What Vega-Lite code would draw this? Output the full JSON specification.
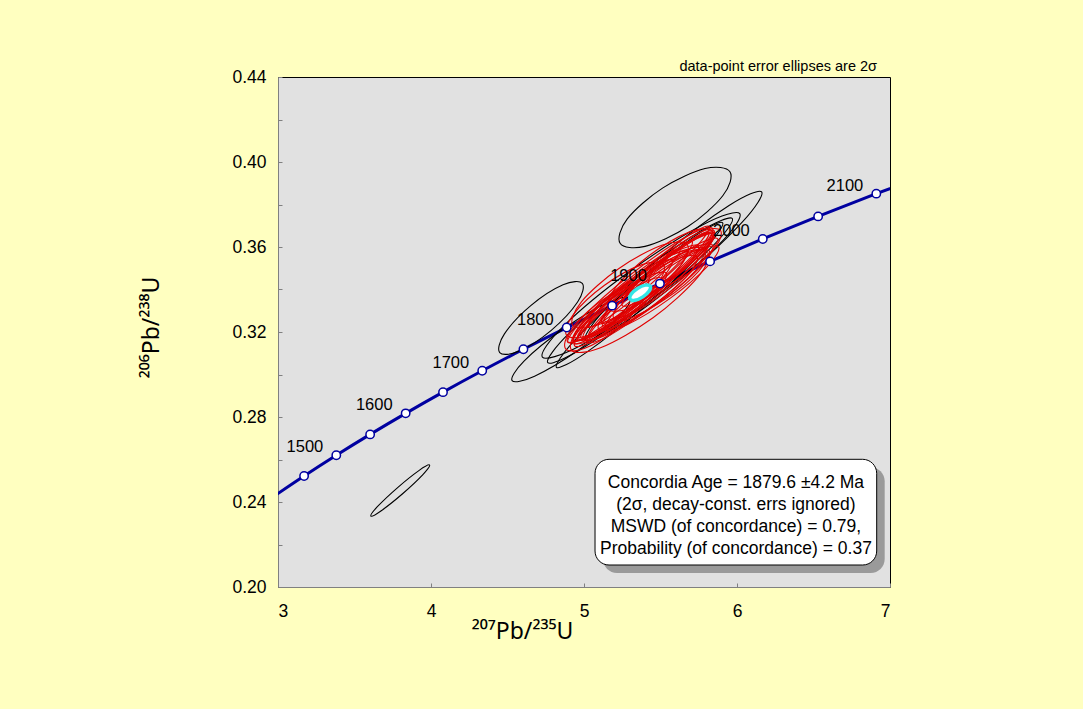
{
"$schema": "https://vega.github.io/schema/vega-lite/v6.json",
"width": 612, "height": 510,
"autosize": {"type": "none"},
"padding": {"left": 278, "top": 77, "right": 193, "bottom": 122},
"background": "#FFFFC0",
"config": {
 "font": "Liberation Sans",
 "view": {"fill": "#E1E1E1", "stroke": "#000000", "strokeWidth": 1},
 "axis": {"grid": false, "domainColor": "#808080", "tickColor": "#808080", "labelFontSize": 17.5, "labelColor": "#000000", "titleFontSize": 23, "titleFontWeight": "normal", "titleColor": "#000000", "labelFont": "Liberation Sans", "titleFont": "Noto Sans"}
},
"datasets": {
 "concordia": [
  {"age":1400,"r207_235":2.97009,"r206_238":0.24256},
  {"age":1450,"r207_235":3.17049,"r206_238":0.25224},
  {"age":1500,"r207_235":3.38099,"r206_238":0.26199},
  {"age":1550,"r207_235":3.60212,"r206_238":0.27181},
  {"age":1600,"r207_235":3.83441,"r206_238":0.28172},
  {"age":1650,"r207_235":4.07844,"r206_238":0.29170},
  {"age":1700,"r207_235":4.33477,"r206_238":0.30175},
  {"age":1750,"r207_235":4.60404,"r206_238":0.31189},
  {"age":1800,"r207_235":4.88690,"r206_238":0.32210},
  {"age":1850,"r207_235":5.18405,"r206_238":0.33240},
  {"age":1900,"r207_235":5.49619,"r206_238":0.34278},
  {"age":1950,"r207_235":5.82408,"r206_238":0.35323},
  {"age":2000,"r207_235":6.16853,"r206_238":0.36377},
  {"age":2050,"r207_235":6.53036,"r206_238":0.37439},
  {"age":2100,"r207_235":6.91045,"r206_238":0.38509},
  {"age":2150,"r207_235":7.30971,"r206_238":0.39587}
 ],
 "ellipses": [
  {"id":"K1","set":"rejected","k":0,"r207_235":3.991,"r206_238":0.2574},
  {"id":"K1","set":"rejected","k":1,"r207_235":3.923,"r206_238":0.2549},
  {"id":"K1","set":"rejected","k":2,"r207_235":3.782,"r206_238":0.2468},
  {"id":"K1","set":"rejected","k":3,"r207_235":3.651,"r206_238":0.2379},
  {"id":"K1","set":"rejected","k":4,"r207_235":3.607,"r206_238":0.2334},
  {"id":"K1","set":"rejected","k":5,"r207_235":3.675,"r206_238":0.2359},
  {"id":"K1","set":"rejected","k":6,"r207_235":3.816,"r206_238":0.2440},
  {"id":"K1","set":"rejected","k":7,"r207_235":3.947,"r206_238":0.2529},
  {"id":"K2","set":"rejected","k":0,"r207_235":4.989,"r206_238":0.3429},
  {"id":"K2","set":"rejected","k":1,"r207_235":4.863,"r206_238":0.3422},
  {"id":"K2","set":"rejected","k":2,"r207_235":4.652,"r206_238":0.3324},
  {"id":"K2","set":"rejected","k":3,"r207_235":4.480,"r206_238":0.3191},
  {"id":"K2","set":"rejected","k":4,"r207_235":4.449,"r206_238":0.3103},
  {"id":"K2","set":"rejected","k":5,"r207_235":4.575,"r206_238":0.3110},
  {"id":"K2","set":"rejected","k":6,"r207_235":4.786,"r206_238":0.3208},
  {"id":"K2","set":"rejected","k":7,"r207_235":4.958,"r206_238":0.3341},
  {"id":"K3","set":"rejected","k":0,"r207_235":5.301,"r206_238":0.3359},
  {"id":"K3","set":"rejected","k":1,"r207_235":5.153,"r206_238":0.3338},
  {"id":"K3","set":"rejected","k":2,"r207_235":4.866,"r206_238":0.3215},
  {"id":"K3","set":"rejected","k":3,"r207_235":4.608,"r206_238":0.3063},
  {"id":"K3","set":"rejected","k":4,"r207_235":4.530,"r206_238":0.2971},
  {"id":"K3","set":"rejected","k":5,"r207_235":4.677,"r206_238":0.2992},
  {"id":"K3","set":"rejected","k":6,"r207_235":4.964,"r206_238":0.3115},
  {"id":"K3","set":"rejected","k":7,"r207_235":5.222,"r206_238":0.3267},
  {"id":"K4","set":"rejected","k":0,"r207_235":6.018,"r206_238":0.3757},
  {"id":"K4","set":"rejected","k":1,"r207_235":5.780,"r206_238":0.3706},
  {"id":"K4","set":"rejected","k":2,"r207_235":5.304,"r206_238":0.3488},
  {"id":"K4","set":"rejected","k":3,"r207_235":4.868,"r206_238":0.3229},
  {"id":"K4","set":"rejected","k":4,"r207_235":4.728,"r206_238":0.3082},
  {"id":"K4","set":"rejected","k":5,"r207_235":4.966,"r206_238":0.3132},
  {"id":"K4","set":"rejected","k":6,"r207_235":5.442,"r206_238":0.3351},
  {"id":"K4","set":"rejected","k":7,"r207_235":5.878,"r206_238":0.3609},
  {"id":"K5","set":"rejected","k":0,"r207_235":5.969,"r206_238":0.3734},
  {"id":"K5","set":"rejected","k":1,"r207_235":5.752,"r206_238":0.3671},
  {"id":"K5","set":"rejected","k":2,"r207_235":5.310,"r206_238":0.3447},
  {"id":"K5","set":"rejected","k":3,"r207_235":4.900,"r206_238":0.3192},
  {"id":"K5","set":"rejected","k":4,"r207_235":4.763,"r206_238":0.3056},
  {"id":"K5","set":"rejected","k":5,"r207_235":4.980,"r206_238":0.3119},
  {"id":"K5","set":"rejected","k":6,"r207_235":5.422,"r206_238":0.3343},
  {"id":"K5","set":"rejected","k":7,"r207_235":5.832,"r206_238":0.3598},
  {"id":"K6","set":"rejected","k":0,"r207_235":5.906,"r206_238":0.3714},
  {"id":"K6","set":"rejected","k":1,"r207_235":5.710,"r206_238":0.3644},
  {"id":"K6","set":"rejected","k":2,"r207_235":5.312,"r206_238":0.3417},
  {"id":"K6","set":"rejected","k":3,"r207_235":4.943,"r206_238":0.3164},
  {"id":"K6","set":"rejected","k":4,"r207_235":4.820,"r206_238":0.3034},
  {"id":"K6","set":"rejected","k":5,"r207_235":5.016,"r206_238":0.3104},
  {"id":"K6","set":"rejected","k":6,"r207_235":5.414,"r206_238":0.3331},
  {"id":"K6","set":"rejected","k":7,"r207_235":5.783,"r206_238":0.3584},
  {"id":"K7","set":"rejected","k":0,"r207_235":6.161,"r206_238":0.3859},
  {"id":"K7","set":"rejected","k":1,"r207_235":5.948,"r206_238":0.3795},
  {"id":"K7","set":"rejected","k":2,"r207_235":5.522,"r206_238":0.3565},
  {"id":"K7","set":"rejected","k":3,"r207_235":5.133,"r206_238":0.3303},
  {"id":"K7","set":"rejected","k":4,"r207_235":5.009,"r206_238":0.3163},
  {"id":"K7","set":"rejected","k":5,"r207_235":5.222,"r206_238":0.3227},
  {"id":"K7","set":"rejected","k":6,"r207_235":5.648,"r206_238":0.3457},
  {"id":"K7","set":"rejected","k":7,"r207_235":6.037,"r206_238":0.3719},
  {"id":"K8","set":"rejected","k":0,"r207_235":5.954,"r206_238":0.3954},
  {"id":"K8","set":"rejected","k":1,"r207_235":5.791,"r206_238":0.3969},
  {"id":"K8","set":"rejected","k":2,"r207_235":5.513,"r206_238":0.3877},
  {"id":"K8","set":"rejected","k":3,"r207_235":5.283,"r206_238":0.3732},
  {"id":"K8","set":"rejected","k":4,"r207_235":5.236,"r206_238":0.3618},
  {"id":"K8","set":"rejected","k":5,"r207_235":5.399,"r206_238":0.3603},
  {"id":"K8","set":"rejected","k":6,"r207_235":5.677,"r206_238":0.3695},
  {"id":"K8","set":"rejected","k":7,"r207_235":5.907,"r206_238":0.3841},
  {"id":"R1","set":"accepted","k":0,"r207_235":5.850,"r206_238":0.3668},
  {"id":"R1","set":"accepted","k":1,"r207_235":5.680,"r206_238":0.3623},
  {"id":"R1","set":"accepted","k":2,"r207_235":5.338,"r206_238":0.3452},
  {"id":"R1","set":"accepted","k":3,"r207_235":5.024,"r206_238":0.3254},
  {"id":"R1","set":"accepted","k":4,"r207_235":4.923,"r206_238":0.3146},
  {"id":"R1","set":"accepted","k":5,"r207_235":5.092,"r206_238":0.3191},
  {"id":"R1","set":"accepted","k":6,"r207_235":5.434,"r206_238":0.3362},
  {"id":"R1","set":"accepted","k":7,"r207_235":5.748,"r206_238":0.3560},
  {"id":"R2","set":"accepted","k":0,"r207_235":5.832,"r206_238":0.3663},
  {"id":"R2","set":"accepted","k":1,"r207_235":5.685,"r206_238":0.3618},
  {"id":"R2","set":"accepted","k":2,"r207_235":5.389,"r206_238":0.3457},
  {"id":"R2","set":"accepted","k":3,"r207_235":5.118,"r206_238":0.3275},
  {"id":"R2","set":"accepted","k":4,"r207_235":5.031,"r206_238":0.3179},
  {"id":"R2","set":"accepted","k":5,"r207_235":5.178,"r206_238":0.3224},
  {"id":"R2","set":"accepted","k":6,"r207_235":5.473,"r206_238":0.3385},
  {"id":"R2","set":"accepted","k":7,"r207_235":5.744,"r206_238":0.3567},
  {"id":"R3","set":"accepted","k":0,"r207_235":5.747,"r206_238":0.3605},
  {"id":"R3","set":"accepted","k":1,"r207_235":5.592,"r206_238":0.3575},
  {"id":"R3","set":"accepted","k":2,"r207_235":5.289,"r206_238":0.3433},
  {"id":"R3","set":"accepted","k":3,"r207_235":5.016,"r206_238":0.3262},
  {"id":"R3","set":"accepted","k":4,"r207_235":4.933,"r206_238":0.3163},
  {"id":"R3","set":"accepted","k":5,"r207_235":5.088,"r206_238":0.3193},
  {"id":"R3","set":"accepted","k":6,"r207_235":5.391,"r206_238":0.3335},
  {"id":"R3","set":"accepted","k":7,"r207_235":5.664,"r206_238":0.3506},
  {"id":"R4","set":"accepted","k":0,"r207_235":5.815,"r206_238":0.3666},
  {"id":"R4","set":"accepted","k":1,"r207_235":5.685,"r206_238":0.3627},
  {"id":"R4","set":"accepted","k":2,"r207_235":5.426,"r206_238":0.3486},
  {"id":"R4","set":"accepted","k":3,"r207_235":5.189,"r206_238":0.3327},
  {"id":"R4","set":"accepted","k":4,"r207_235":5.114,"r206_238":0.3242},
  {"id":"R4","set":"accepted","k":5,"r207_235":5.243,"r206_238":0.3281},
  {"id":"R4","set":"accepted","k":6,"r207_235":5.502,"r206_238":0.3422},
  {"id":"R4","set":"accepted","k":7,"r207_235":5.739,"r206_238":0.3581},
  {"id":"R5","set":"accepted","k":0,"r207_235":5.672,"r206_238":0.3578},
  {"id":"R5","set":"accepted","k":1,"r207_235":5.529,"r206_238":0.3548},
  {"id":"R5","set":"accepted","k":2,"r207_235":5.253,"r206_238":0.3414},
  {"id":"R5","set":"accepted","k":3,"r207_235":5.005,"r206_238":0.3253},
  {"id":"R5","set":"accepted","k":4,"r207_235":4.930,"r206_238":0.3160},
  {"id":"R5","set":"accepted","k":5,"r207_235":5.073,"r206_238":0.3190},
  {"id":"R5","set":"accepted","k":6,"r207_235":5.349,"r206_238":0.3325},
  {"id":"R5","set":"accepted","k":7,"r207_235":5.597,"r206_238":0.3485},
  {"id":"R6","set":"accepted","k":0,"r207_235":5.873,"r206_238":0.3639},
  {"id":"R6","set":"accepted","k":1,"r207_235":5.732,"r206_238":0.3608},
  {"id":"R6","set":"accepted","k":2,"r207_235":5.454,"r206_238":0.3476},
  {"id":"R6","set":"accepted","k":3,"r207_235":5.201,"r206_238":0.3320},
  {"id":"R6","set":"accepted","k":4,"r207_235":5.121,"r206_238":0.3231},
  {"id":"R6","set":"accepted","k":5,"r207_235":5.262,"r206_238":0.3262},
  {"id":"R6","set":"accepted","k":6,"r207_235":5.540,"r206_238":0.3394},
  {"id":"R6","set":"accepted","k":7,"r207_235":5.793,"r206_238":0.3550},
  {"id":"R7","set":"accepted","k":0,"r207_235":5.578,"r206_238":0.3539},
  {"id":"R7","set":"accepted","k":1,"r207_235":5.458,"r206_238":0.3509},
  {"id":"R7","set":"accepted","k":2,"r207_235":5.226,"r206_238":0.3387},
  {"id":"R7","set":"accepted","k":3,"r207_235":5.019,"r206_238":0.3244},
  {"id":"R7","set":"accepted","k":4,"r207_235":4.958,"r206_238":0.3164},
  {"id":"R7","set":"accepted","k":5,"r207_235":5.078,"r206_238":0.3193},
  {"id":"R7","set":"accepted","k":6,"r207_235":5.310,"r206_238":0.3315},
  {"id":"R7","set":"accepted","k":7,"r207_235":5.517,"r206_238":0.3458},
  {"id":"R8","set":"accepted","k":0,"r207_235":5.853,"r206_238":0.3668},
  {"id":"R8","set":"accepted","k":1,"r207_235":5.721,"r206_238":0.3640},
  {"id":"R8","set":"accepted","k":2,"r207_235":5.473,"r206_238":0.3511},
  {"id":"R8","set":"accepted","k":3,"r207_235":5.254,"r206_238":0.3358},
  {"id":"R8","set":"accepted","k":4,"r207_235":5.193,"r206_238":0.3268},
  {"id":"R8","set":"accepted","k":5,"r207_235":5.325,"r206_238":0.3296},
  {"id":"R8","set":"accepted","k":6,"r207_235":5.573,"r206_238":0.3425},
  {"id":"R8","set":"accepted","k":7,"r207_235":5.792,"r206_238":0.3579},
  {"id":"R9","set":"accepted","k":0,"r207_235":5.840,"r206_238":0.3688},
  {"id":"R9","set":"accepted","k":1,"r207_235":5.661,"r206_238":0.3646},
  {"id":"R9","set":"accepted","k":2,"r207_235":5.310,"r206_238":0.3473},
  {"id":"R9","set":"accepted","k":3,"r207_235":4.991,"r206_238":0.3269},
  {"id":"R9","set":"accepted","k":4,"r207_235":4.892,"r206_238":0.3155},
  {"id":"R9","set":"accepted","k":5,"r207_235":5.071,"r206_238":0.3196},
  {"id":"R9","set":"accepted","k":6,"r207_235":5.422,"r206_238":0.3369},
  {"id":"R9","set":"accepted","k":7,"r207_235":5.741,"r206_238":0.3573},
  {"id":"R10","set":"accepted","k":0,"r207_235":5.841,"r206_238":0.3609},
  {"id":"R10","set":"accepted","k":1,"r207_235":5.676,"r206_238":0.3585},
  {"id":"R10","set":"accepted","k":2,"r207_235":5.360,"r206_238":0.3445},
  {"id":"R10","set":"accepted","k":3,"r207_235":5.078,"r206_238":0.3272},
  {"id":"R10","set":"accepted","k":4,"r207_235":4.995,"r206_238":0.3167},
  {"id":"R10","set":"accepted","k":5,"r207_235":5.160,"r206_238":0.3191},
  {"id":"R10","set":"accepted","k":6,"r207_235":5.476,"r206_238":0.3331},
  {"id":"R10","set":"accepted","k":7,"r207_235":5.758,"r206_238":0.3504},
  {"id":"R11","set":"accepted","k":0,"r207_235":5.627,"r206_238":0.3589},
  {"id":"R11","set":"accepted","k":1,"r207_235":5.516,"r206_238":0.3556},
  {"id":"R11","set":"accepted","k":2,"r207_235":5.293,"r206_238":0.3436},
  {"id":"R11","set":"accepted","k":3,"r207_235":5.091,"r206_238":0.3299},
  {"id":"R11","set":"accepted","k":4,"r207_235":5.027,"r206_238":0.3226},
  {"id":"R11","set":"accepted","k":5,"r207_235":5.138,"r206_238":0.3258},
  {"id":"R11","set":"accepted","k":6,"r207_235":5.361,"r206_238":0.3378},
  {"id":"R11","set":"accepted","k":7,"r207_235":5.563,"r206_238":0.3515},
  {"id":"R12","set":"accepted","k":0,"r207_235":5.848,"r206_238":0.3660},
  {"id":"R12","set":"accepted","k":1,"r207_235":5.732,"r206_238":0.3637},
  {"id":"R12","set":"accepted","k":2,"r207_235":5.509,"r206_238":0.3529},
  {"id":"R12","set":"accepted","k":3,"r207_235":5.309,"r206_238":0.3399},
  {"id":"R12","set":"accepted","k":4,"r207_235":5.250,"r206_238":0.3324},
  {"id":"R12","set":"accepted","k":5,"r207_235":5.366,"r206_238":0.3347},
  {"id":"R12","set":"accepted","k":6,"r207_235":5.589,"r206_238":0.3455},
  {"id":"R12","set":"accepted","k":7,"r207_235":5.789,"r206_238":0.3585},
  {"id":"R13","set":"accepted","k":0,"r207_235":5.538,"r206_238":0.3477},
  {"id":"R13","set":"accepted","k":1,"r207_235":5.416,"r206_238":0.3461},
  {"id":"R13","set":"accepted","k":2,"r207_235":5.188,"r206_238":0.3358},
  {"id":"R13","set":"accepted","k":3,"r207_235":4.988,"r206_238":0.3229},
  {"id":"R13","set":"accepted","k":4,"r207_235":4.932,"r206_238":0.3149},
  {"id":"R13","set":"accepted","k":5,"r207_235":5.054,"r206_238":0.3165},
  {"id":"R13","set":"accepted","k":6,"r207_235":5.282,"r206_238":0.3268},
  {"id":"R13","set":"accepted","k":7,"r207_235":5.482,"r206_238":0.3397},
  {"id":"R14","set":"accepted","k":0,"r207_235":5.818,"r206_238":0.3697},
  {"id":"R14","set":"accepted","k":1,"r207_235":5.665,"r206_238":0.3646},
  {"id":"R14","set":"accepted","k":2,"r207_235":5.356,"r206_238":0.3471},
  {"id":"R14","set":"accepted","k":3,"r207_235":5.072,"r206_238":0.3275},
  {"id":"R14","set":"accepted","k":4,"r207_235":4.980,"r206_238":0.3173},
  {"id":"R14","set":"accepted","k":5,"r207_235":5.133,"r206_238":0.3224},
  {"id":"R14","set":"accepted","k":6,"r207_235":5.442,"r206_238":0.3399},
  {"id":"R14","set":"accepted","k":7,"r207_235":5.726,"r206_238":0.3595},
  {"id":"R15","set":"accepted","k":0,"r207_235":5.793,"r206_238":0.3581},
  {"id":"R15","set":"accepted","k":1,"r207_235":5.653,"r206_238":0.3565},
  {"id":"R15","set":"accepted","k":2,"r207_235":5.390,"r206_238":0.3451},
  {"id":"R15","set":"accepted","k":3,"r207_235":5.159,"r206_238":0.3307},
  {"id":"R15","set":"accepted","k":4,"r207_235":5.095,"r206_238":0.3215},
  {"id":"R15","set":"accepted","k":5,"r207_235":5.235,"r206_238":0.3231},
  {"id":"R15","set":"accepted","k":6,"r207_235":5.498,"r206_238":0.3345},
  {"id":"R15","set":"accepted","k":7,"r207_235":5.729,"r206_238":0.3489},
  {"id":"R16","set":"accepted","k":0,"r207_235":5.707,"r206_238":0.3625},
  {"id":"R16","set":"accepted","k":1,"r207_235":5.556,"r206_238":0.3584},
  {"id":"R16","set":"accepted","k":2,"r207_235":5.256,"r206_238":0.3428},
  {"id":"R16","set":"accepted","k":3,"r207_235":4.982,"r206_238":0.3249},
  {"id":"R16","set":"accepted","k":4,"r207_235":4.895,"r206_238":0.3151},
  {"id":"R16","set":"accepted","k":5,"r207_235":5.046,"r206_238":0.3192},
  {"id":"R16","set":"accepted","k":6,"r207_235":5.346,"r206_238":0.3348},
  {"id":"R16","set":"accepted","k":7,"r207_235":5.620,"r206_238":0.3527},
  {"id":"R17","set":"accepted","k":0,"r207_235":5.880,"r206_238":0.3601},
  {"id":"R17","set":"accepted","k":1,"r207_235":5.736,"r206_238":0.3579},
  {"id":"R17","set":"accepted","k":2,"r207_235":5.460,"r206_238":0.3457},
  {"id":"R17","set":"accepted","k":3,"r207_235":5.213,"r206_238":0.3305},
  {"id":"R17","set":"accepted","k":4,"r207_235":5.140,"r206_238":0.3213},
  {"id":"R17","set":"accepted","k":5,"r207_235":5.284,"r206_238":0.3235},
  {"id":"R17","set":"accepted","k":6,"r207_235":5.560,"r206_238":0.3357},
  {"id":"R17","set":"accepted","k":7,"r207_235":5.807,"r206_238":0.3509},
  {"id":"R18","set":"accepted","k":0,"r207_235":5.739,"r206_238":0.3554},
  {"id":"R18","set":"accepted","k":1,"r207_235":5.586,"r206_238":0.3538},
  {"id":"R18","set":"accepted","k":2,"r207_235":5.297,"r206_238":0.3418},
  {"id":"R18","set":"accepted","k":3,"r207_235":5.041,"r206_238":0.3263},
  {"id":"R18","set":"accepted","k":4,"r207_235":4.968,"r206_238":0.3166},
  {"id":"R18","set":"accepted","k":5,"r207_235":5.120,"r206_238":0.3182},
  {"id":"R18","set":"accepted","k":6,"r207_235":5.409,"r206_238":0.3302},
  {"id":"R18","set":"accepted","k":7,"r207_235":5.665,"r206_238":0.3457},
  {"id":"R19","set":"accepted","k":0,"r207_235":5.850,"r206_238":0.3677},
  {"id":"R19","set":"accepted","k":1,"r207_235":5.743,"r206_238":0.3652},
  {"id":"R19","set":"accepted","k":2,"r207_235":5.537,"r206_238":0.3543},
  {"id":"R19","set":"accepted","k":3,"r207_235":5.354,"r206_238":0.3416},
  {"id":"R19","set":"accepted","k":4,"r207_235":5.300,"r206_238":0.3345},
  {"id":"R19","set":"accepted","k":5,"r207_235":5.407,"r206_238":0.3370},
  {"id":"R19","set":"accepted","k":6,"r207_235":5.613,"r206_238":0.3479},
  {"id":"R19","set":"accepted","k":7,"r207_235":5.797,"r206_238":0.3606},
  {"id":"R20","set":"accepted","k":0,"r207_235":5.505,"r206_238":0.3453},
  {"id":"R20","set":"accepted","k":1,"r207_235":5.394,"r206_238":0.3433},
  {"id":"R20","set":"accepted","k":2,"r207_235":5.182,"r206_238":0.3331},
  {"id":"R20","set":"accepted","k":3,"r207_235":4.993,"r206_238":0.3208},
  {"id":"R20","set":"accepted","k":4,"r207_235":4.939,"r206_238":0.3135},
  {"id":"R20","set":"accepted","k":5,"r207_235":5.050,"r206_238":0.3155},
  {"id":"R20","set":"accepted","k":6,"r207_235":5.262,"r206_238":0.3257},
  {"id":"R20","set":"accepted","k":7,"r207_235":5.451,"r206_238":0.3381},
  {"id":"R21","set":"accepted","k":0,"r207_235":5.791,"r206_238":0.3586},
  {"id":"R21","set":"accepted","k":1,"r207_235":5.644,"r206_238":0.3554},
  {"id":"R21","set":"accepted","k":2,"r207_235":5.357,"r206_238":0.3414},
  {"id":"R21","set":"accepted","k":3,"r207_235":5.098,"r206_238":0.3247},
  {"id":"R21","set":"accepted","k":4,"r207_235":5.019,"r206_238":0.3152},
  {"id":"R21","set":"accepted","k":5,"r207_235":5.166,"r206_238":0.3184},
  {"id":"R21","set":"accepted","k":6,"r207_235":5.453,"r206_238":0.3325},
  {"id":"R21","set":"accepted","k":7,"r207_235":5.712,"r206_238":0.3491},
  {"id":"R22","set":"accepted","k":0,"r207_235":5.807,"r206_238":0.3579},
  {"id":"R22","set":"accepted","k":1,"r207_235":5.667,"r206_238":0.3576},
  {"id":"R22","set":"accepted","k":2,"r207_235":5.413,"r206_238":0.3478},
  {"id":"R22","set":"accepted","k":3,"r207_235":5.192,"r206_238":0.3345},
  {"id":"R22","set":"accepted","k":4,"r207_235":5.135,"r206_238":0.3253},
  {"id":"R22","set":"accepted","k":5,"r207_235":5.275,"r206_238":0.3257},
  {"id":"R22","set":"accepted","k":6,"r207_235":5.529,"r206_238":0.3354},
  {"id":"R22","set":"accepted","k":7,"r207_235":5.750,"r206_238":0.3487},
  {"id":"R23","set":"accepted","k":0,"r207_235":5.520,"r206_238":0.3517},
  {"id":"R23","set":"accepted","k":1,"r207_235":5.379,"r206_238":0.3517},
  {"id":"R23","set":"accepted","k":2,"r207_235":5.134,"r206_238":0.3420},
  {"id":"R23","set":"accepted","k":3,"r207_235":4.930,"r206_238":0.3282},
  {"id":"R23","set":"accepted","k":4,"r207_235":4.886,"r206_238":0.3185},
  {"id":"R23","set":"accepted","k":5,"r207_235":5.028,"r206_238":0.3185},
  {"id":"R23","set":"accepted","k":6,"r207_235":5.272,"r206_238":0.3283},
  {"id":"R23","set":"accepted","k":7,"r207_235":5.476,"r206_238":0.3420},
  {"id":"R24","set":"accepted","k":0,"r207_235":5.676,"r206_238":0.3610},
  {"id":"R24","set":"accepted","k":1,"r207_235":5.513,"r206_238":0.3609},
  {"id":"R24","set":"accepted","k":2,"r207_235":5.226,"r206_238":0.3498},
  {"id":"R24","set":"accepted","k":3,"r207_235":4.983,"r206_238":0.3342},
  {"id":"R24","set":"accepted","k":4,"r207_235":4.926,"r206_238":0.3232},
  {"id":"R24","set":"accepted","k":5,"r207_235":5.089,"r206_238":0.3233},
  {"id":"R24","set":"accepted","k":6,"r207_235":5.376,"r206_238":0.3344},
  {"id":"R24","set":"accepted","k":7,"r207_235":5.619,"r206_238":0.3500},
  {"id":"R25","set":"accepted","k":0,"r207_235":5.836,"r206_238":0.3676},
  {"id":"R25","set":"accepted","k":1,"r207_235":5.687,"r206_238":0.3670},
  {"id":"R25","set":"accepted","k":2,"r207_235":5.426,"r206_238":0.3560},
  {"id":"R25","set":"accepted","k":3,"r207_235":5.207,"r206_238":0.3410},
  {"id":"R25","set":"accepted","k":4,"r207_235":5.158,"r206_238":0.3308},
  {"id":"R25","set":"accepted","k":5,"r207_235":5.307,"r206_238":0.3314},
  {"id":"R25","set":"accepted","k":6,"r207_235":5.568,"r206_238":0.3424},
  {"id":"R25","set":"accepted","k":7,"r207_235":5.787,"r206_238":0.3574},
  {"id":"R26","set":"accepted","k":0,"r207_235":5.395,"r206_238":0.3411},
  {"id":"R26","set":"accepted","k":1,"r207_235":5.274,"r206_238":0.3410},
  {"id":"R26","set":"accepted","k":2,"r207_235":5.073,"r206_238":0.3325},
  {"id":"R26","set":"accepted","k":3,"r207_235":4.909,"r206_238":0.3206},
  {"id":"R26","set":"accepted","k":4,"r207_235":4.880,"r206_238":0.3121},
  {"id":"R26","set":"accepted","k":5,"r207_235":5.001,"r206_238":0.3122},
  {"id":"R26","set":"accepted","k":6,"r207_235":5.201,"r206_238":0.3207},
  {"id":"R26","set":"accepted","k":7,"r207_235":5.365,"r206_238":0.3327},
  {"id":"R27","set":"accepted","k":0,"r207_235":5.892,"r206_238":0.3678},
  {"id":"R27","set":"accepted","k":1,"r207_235":5.784,"r206_238":0.3677},
  {"id":"R27","set":"accepted","k":2,"r207_235":5.604,"r206_238":0.3600},
  {"id":"R27","set":"accepted","k":3,"r207_235":5.456,"r206_238":0.3493},
  {"id":"R27","set":"accepted","k":4,"r207_235":5.428,"r206_238":0.3418},
  {"id":"R27","set":"accepted","k":5,"r207_235":5.536,"r206_238":0.3419},
  {"id":"R27","set":"accepted","k":6,"r207_235":5.716,"r206_238":0.3496},
  {"id":"R27","set":"accepted","k":7,"r207_235":5.864,"r206_238":0.3604},
  {"id":"R28","set":"accepted","k":0,"r207_235":5.816,"r206_238":0.3586},
  {"id":"R28","set":"accepted","k":1,"r207_235":5.624,"r206_238":0.3577},
  {"id":"R28","set":"accepted","k":2,"r207_235":5.282,"r206_238":0.3435},
  {"id":"R28","set":"accepted","k":3,"r207_235":4.988,"r206_238":0.3244},
  {"id":"R28","set":"accepted","k":4,"r207_235":4.917,"r206_238":0.3116},
  {"id":"R28","set":"accepted","k":5,"r207_235":5.108,"r206_238":0.3126},
  {"id":"R28","set":"accepted","k":6,"r207_235":5.451,"r206_238":0.3267},
  {"id":"R28","set":"accepted","k":7,"r207_235":5.744,"r206_238":0.3458},
  {"id":"M","set":"mean","k":0,"r207_235":5.4328,"r206_238":0.34158},
  {"id":"M","set":"mean","k":1,"r207_235":5.4009,"r206_238":0.34207},
  {"id":"M","set":"mean","k":2,"r207_235":5.3492,"r206_238":0.34047},
  {"id":"M","set":"mean","k":3,"r207_235":5.3079,"r206_238":0.33772},
  {"id":"M","set":"mean","k":4,"r207_235":5.3012,"r206_238":0.33543},
  {"id":"M","set":"mean","k":5,"r207_235":5.3331,"r206_238":0.33493},
  {"id":"M","set":"mean","k":6,"r207_235":5.3848,"r206_238":0.33653},
  {"id":"M","set":"mean","k":7,"r207_235":5.4261,"r206_238":0.33928}
 ]
},
"layer": [
 {
  "data": {"name": "concordia"},
  "mark": {"type": "line", "color": "#0000A0", "strokeWidth": 3, "interpolate": "monotone", "clip": true},
  "encoding": {
   "x": {"field": "r207_235", "type": "quantitative", "scale": {"domain": [3, 7], "nice": false, "zero": false},
    "axis": {"title": "²⁰⁷Pb/²³⁵U", "values": [3, 4, 5, 6, 7], "format": "d", "tickSize": -4, "labelPadding": 19, "titleX": 244, "titleY": 51, "titleBaseline": "alphabetic", "titleAlign": "center"}},
   "y": {"field": "r206_238", "type": "quantitative", "scale": {"domain": [0.2, 0.44], "nice": false, "zero": false},
    "axis": {"title": "²⁰⁶Pb/²³⁸U", "values": [0.2, 0.22, 0.24, 0.26, 0.28, 0.3, 0.32, 0.34, 0.36, 0.38, 0.4, 0.42, 0.44], "labelExpr": "round(datum.value*100) % 4 == 0 ? format(datum.value, '.2f') : ''", "tickSize": -4, "labelPadding": 16, "titleX": -120, "titleY": 250, "titleAngle": 270, "titleBaseline": "alphabetic", "titleAlign": "center"}},
   "order": {"field": "age", "type": "quantitative"}
  }
 },
 {
  "data": {"name": "ellipses"},
  "transform": [{"filter": "datum.set != 'mean'"}],
  "mark": {"type": "line", "interpolate": "cardinal-closed", "strokeWidth": 1.1},
  "encoding": {
   "x": {"field": "r207_235", "type": "quantitative"},
   "y": {"field": "r206_238", "type": "quantitative"},
   "detail": {"field": "id", "type": "nominal"},
   "order": {"field": "k", "type": "quantitative"},
   "color": {"field": "set", "type": "nominal", "scale": {"domain": ["rejected", "accepted"], "range": ["#000000", "#E00000"]}, "legend": null}
  }
 },
 {
  "data": {"name": "ellipses"},
  "transform": [{"filter": "datum.set == 'mean'"}],
  "mark": {"type": "line", "interpolate": "cardinal-closed", "strokeWidth": 3.5, "stroke": "#33E6E6", "fill": "#FFFFFF"},
  "encoding": {
   "x": {"field": "r207_235", "type": "quantitative"},
   "y": {"field": "r206_238", "type": "quantitative"},
   "order": {"field": "k", "type": "quantitative"}
  }
 },
 {
  "data": {"name": "concordia"},
  "transform": [{"filter": "datum.age % 100 == 0 && datum.age >= 1500 && datum.age <= 2100"}],
  "mark": {"type": "text", "align": "right", "baseline": "middle", "dx": -13, "dy": -8, "fontSize": 16.5, "color": "#000000"},
  "encoding": {
   "x": {"field": "r207_235", "type": "quantitative"},
   "y": {"field": "r206_238", "type": "quantitative"},
   "text": {"field": "age", "type": "quantitative", "format": "d"}
  }
 },
 {
  "data": {"name": "concordia"},
  "transform": [{"filter": "datum.age >= 1450 && datum.age <= 2100"}],
  "mark": {"type": "point", "shape": "circle", "filled": true, "fill": "#FFFFFF", "stroke": "#0000A0", "strokeWidth": 1.5, "size": 70, "opacity": 1},
  "encoding": {
   "x": {"field": "r207_235", "type": "quantitative"},
   "y": {"field": "r206_238", "type": "quantitative"}
  }
 },
 {
  "data": {"values": [{}]},
  "mark": {"type": "text", "align": "right", "baseline": "alphabetic", "dx": -13, "dy": -6, "fontSize": 14.5, "color": "#000000"},
  "encoding": {
   "x": {"datum": 7, "type": "quantitative"},
   "y": {"datum": 0.44, "type": "quantitative"},
   "text": {"value": "data-point error ellipses are 2σ"}
  }
 },
 {
  "data": {"values": [{}]},
  "mark": {"type": "rect", "fill": "#9A9A9A", "cornerRadius": 14, "xOffset": 8, "x2Offset": 8, "yOffset": 8, "y2Offset": 8},
  "encoding": {
   "x": {"datum": 5.072, "type": "quantitative"}, "x2": {"datum": 6.913},
   "y": {"datum": 0.26009, "type": "quantitative"}, "y2": {"datum": 0.21035}
  }
 },
 {
  "data": {"values": [{}]},
  "mark": {"type": "rect", "fill": "#FFFFFF", "stroke": "#000000", "strokeWidth": 1, "cornerRadius": 14},
  "encoding": {
   "x": {"datum": 5.072, "type": "quantitative"}, "x2": {"datum": 6.913},
   "y": {"datum": 0.26009, "type": "quantitative"}, "y2": {"datum": 0.21035}
  }
 },
 {
  "data": {"values": [{}]},
  "mark": {"type": "text", "align": "center", "baseline": "middle", "fontSize": 17.5, "lineHeight": 22, "color": "#000000"},
  "encoding": {
   "x": {"datum": 5.993, "type": "quantitative"},
   "y": {"datum": 0.2489, "type": "quantitative"},
   "text": {"value": ["Concordia Age = 1879.6 ±4.2 Ma", "(2σ, decay-const. errs ignored)", "MSWD (of concordance) = 0.79,", "Probability (of concordance) = 0.37"]}
  }
 }
]
}
